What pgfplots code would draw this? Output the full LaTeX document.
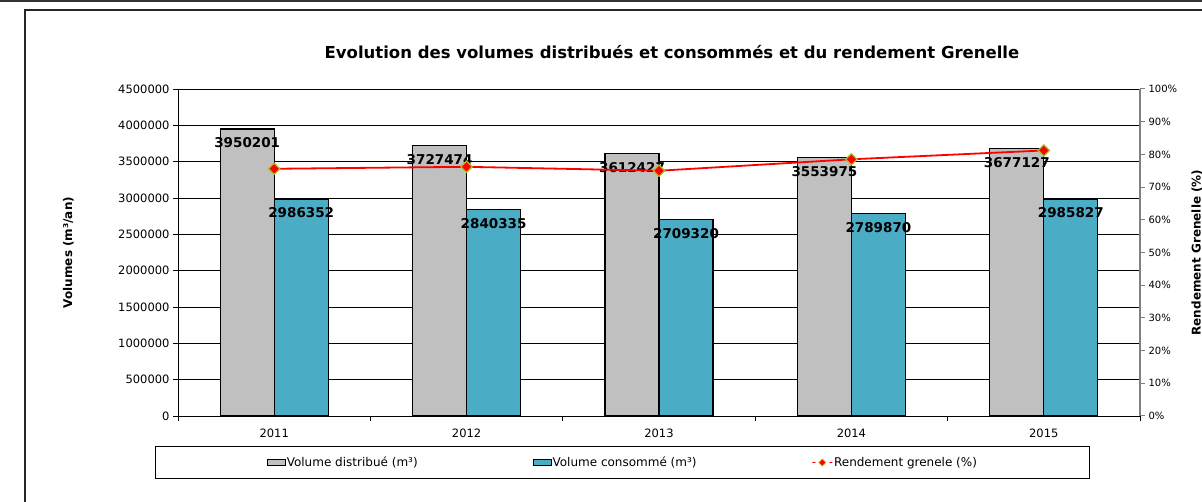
\documentclass[border=0pt]{standalone}
\usepackage{fontspec}
\setmainfont{DejaVu Sans}
\usepackage{pgfplots}
\pgfplotsset{compat=1.18}
\definecolor{bargray}{RGB}{192,192,192}
\definecolor{barteal}{RGB}{75,172,198}
\definecolor{mkedge}{RGB}{170,190,40}
\pgfplotsset{mybarlegend/.style={legend image code/.code={\draw[##1,/tikz/.cd,line width=0.9pt] (0pt,-3pt) rectangle (18pt,3pt);}}}
\begin{document}
\begin{tikzpicture}[x=1pt,y=1pt]
\path[use as bounding box] (0,0) rectangle (1202,502);
\begin{scope}
\clip (0,0) rectangle (1202,502);
\draw[line width=2pt, black!80] (-5,500.5) -- (1210,500.5);
\draw[line width=1.3pt, black!85] (25,-10) -- (25,492) -- (1210,492);
\begin{axis}[
  at={(178pt,86pt)}, anchor=south west,
  width=962pt, height=327pt, scale only axis,
  xmin=-0.5, xmax=4.5, ymin=0, ymax=4500000,
  ybar=0pt, bar width=54pt,
  axis x line*=bottom, axis y line*=left,
  axis line style={-, black, line width=0.9pt},
  xtick={0,1,2,3,4}, xticklabels={2011,2012,2013,2014,2015},
  minor xtick={-0.5,0.5,1.5,2.5,3.5,4.5},
  ytick={0,500000,1000000,1500000,2000000,2500000,3000000,3500000,4000000,4500000},
  yticklabels={0,500000,1000000,1500000,2000000,2500000,3000000,3500000,4000000,4500000},
  scaled y ticks=false,
  ymajorgrids, major grid style={black, line width=0.8pt},
  tick align=outside,
  major x tick style={draw=none},
  minor x tick style={black, line width=0.8pt},
  major y tick style={black, line width=0.8pt},
  minor tick length=5pt, major tick length=5pt,
  ticklabel style={font=\fontsize{11.5}{13}\selectfont},
  xticklabel style={yshift=-4pt},
  point meta=explicit symbolic,
  nodes near coords,
  nodes near coords style={font=\bfseries\fontsize{13.5}{15}\selectfont, anchor=center, yshift=-14pt, text=black},
  ylabel={Volumes (m³/an)},
  ylabel style={at={(axis description cs:-0.114,0.5)}, anchor=center, font=\bfseries\fontsize{12}{14}\selectfont},
  title={Evolution des volumes distribués et consommés et du rendement Grenelle},
  every axis title shift=0pt,
  title style={at={(axis description cs:0.5135,1.113)}, anchor=center, font=\bfseries\fontsize{16.5}{18}\selectfont},
  legend style={at={(axis description cs:0.462,-0.0917)}, anchor=north, legend columns=3,
    draw=black, line width=1pt, inner xsep=111pt, inner ysep=8.5pt,
    font=\fontsize{12}{14}\selectfont,
    nodes={inner xsep=1pt},
    /tikz/every even column/.append style={column sep=114pt}},
]
\addplot[fill=bargray, draw=black, line width=1.2pt, mybarlegend]
  coordinates {(0,3950201) [3950201] (1,3727474) [3727474] (2,3612427) [3612427] (3,3553975) [3553975] (4,3677127) [3677127]};
\addlegendentry{Volume distribué (m³)}
\addplot[fill=barteal, draw=black, line width=1.2pt, mybarlegend]
  coordinates {(0,2986352) [2986352] (1,2840335) [2840335] (2,2709320) [2709320] (3,2789870) [2789870] (4,2985827) [2985827]};
\addlegendentry{Volume consommé (m³)}
\addlegendimage{line legend, red, line width=1.4pt, mark=square*, mark size=2.5pt, mark options={rotate=45, fill=red, draw=mkedge, line width=0.6pt}}
\addlegendentry{Rendement grenele (\%)}
\end{axis}
\begin{axis}[
  at={(178pt,86pt)}, anchor=south west,
  width=962pt, height=327pt, scale only axis,
  xmin=-0.5, xmax=4.5, ymin=0, ymax=100,
  axis x line=none, axis y line*=right,
  axis line style={-, gray, line width=1.2pt},
  ytick={0,10,20,30,40,50,60,70,80,90,100},
  yticklabel={\pgfmathprintnumber[assume math mode=true]{\tick}\%},
  tick align=outside, major tick length=5pt,
  major y tick style={gray, line width=1pt},
  ticklabel style={font=\fontsize{10}{12}\selectfont},
  ylabel={Rendement Grenelle (\%)},
  ylabel style={at={(axis description cs:1.059,0.5)}, anchor=center, font=\bfseries\fontsize{12}{14}\selectfont},
]
\addplot[red, line width=1.8pt, mark=square*, mark size=4pt, mark options={rotate=45, fill=red, draw=mkedge, line width=1.2pt}]
  coordinates {(0,75.6) (1,76.2) (2,75.0) (3,78.5) (4,81.2)};
\end{axis}
\end{scope}
\end{tikzpicture}
\end{document}
